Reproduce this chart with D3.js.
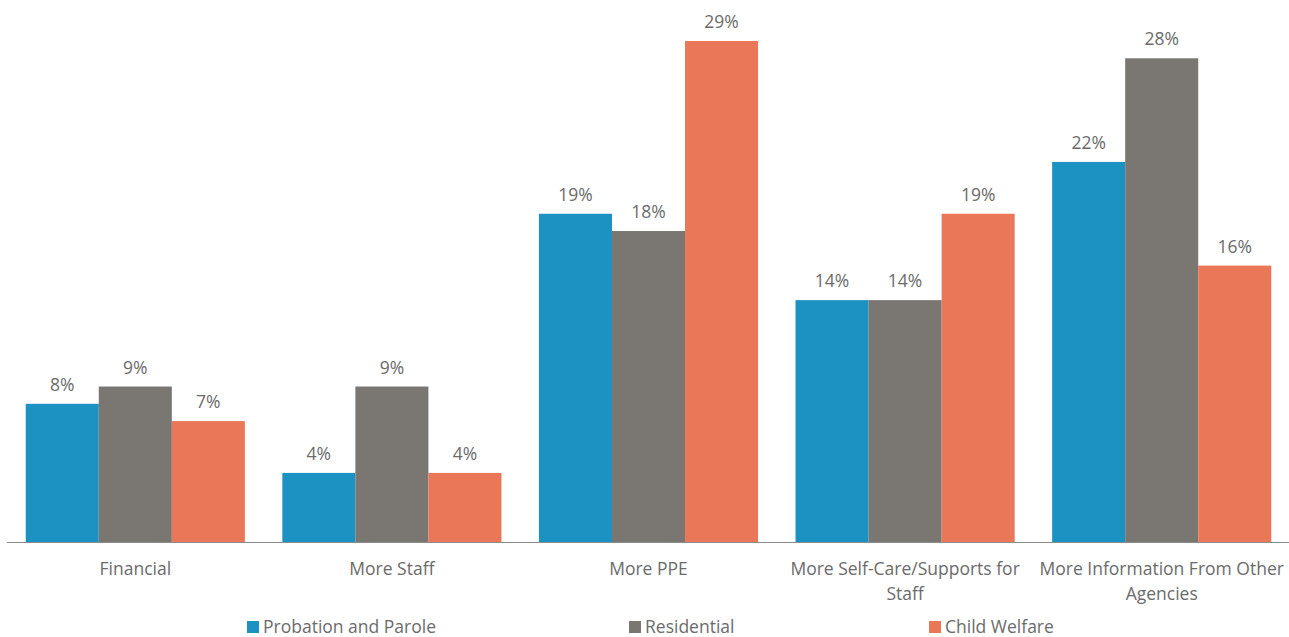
<!DOCTYPE html>
<html>
<head>
<meta charset="utf-8">
<script src="https://cdn.jsdelivr.net/npm/d3@7"></script>
<style>
  body { margin: 0; background: #fff; }
  text { font-family: "Open Sans", "Noto Sans", sans-serif; }
</style>
</head>
<body>
<div class="svg"></div>
<script>
var categories = ['Financial', 'More Staff', 'More PPE', 'More Self-Care/Supports for Staff', 'More Information From Other Agencies'];
var categoryLines = [['Financial'], ['More Staff'], ['More PPE'], ['More Self-Care/Supports for', 'Staff'], ['More Information From Other', 'Agencies']];
var seriesNames = ['Probation and Parole', 'Residential', 'Child Welfare'];
var probation = [8, 4, 19, 14, 22];
var residential = [9, 9, 18, 14, 28];
var childWelfare = [7, 4, 29, 19, 16];
var colors = ['#1b92c2', '#7a7672', '#e97758'];

var w = 1289, h = 637;
var baseY = 542;
var fs = '17.5px';
var svg = d3.select('div.svg').append('svg').attr('width', w).attr('height', h);

var x0 = d3.scaleBand().domain(categories).range([7, 1290]).paddingInner(0.146).paddingOuter(0.073);
var x1 = d3.scaleBand().domain(seriesNames).range([0, x0.bandwidth()]);
var y = d3.scaleLinear().domain([0, 29]).range([baseY, 41]);

var rows = categories.map(function (c, i) {
  return { cat: c, vals: [probation[i], residential[i], childWelfare[i]] };
});

var g = svg.selectAll('g.cat').data(rows).enter().append('g')
  .attr('transform', function (d) { return 'translate(' + x0(d.cat) + ',0)'; });

g.selectAll('rect').data(function (d) { return d.vals; }).enter().append('rect')
  .attr('x', function (d, i) { return x1(seriesNames[i]); })
  .attr('y', function (d) { return y(d); })
  .attr('width', x1.bandwidth())
  .attr('height', function (d) { return baseY - y(d); })
  .style('fill', function (d, i) { return colors[i]; });

g.selectAll('text.val').data(function (d) { return d.vals; }).enter().append('text')
  .attr('class', 'val')
  .attr('x', function (d, i) { return x1(seriesNames[i]) + x1.bandwidth() / 2; })
  .attr('y', function (d) { return y(d) - 13; })
  .attr('text-anchor', 'middle')
  .style('font-size', fs)
  .style('fill', '#6b6b6b')
  .text(function (d) { return d + '%'; });

// baseline
svg.append('line').attr('x1', 7).attr('x2', 1289).attr('y1', baseY + 0.5).attr('y2', baseY + 0.5)
  .style('stroke', '#8c8c8c').style('stroke-width', 1);

// category labels
svg.selectAll('text.cat').data(categories).enter().append('text')
  .attr('class', 'cat')
  .attr('x', function (d) { return x0(d) + x0.bandwidth() / 2; })
  .attr('y', 575)
  .attr('text-anchor', 'middle')
  .style('font-size', fs)
  .style('fill', '#6b6b6b')
  .each(function (d, i) {
    var t = d3.select(this);
    categoryLines[i].forEach(function (line, j) {
      t.append('tspan').attr('x', x0(d) + x0.bandwidth() / 2).attr('dy', j === 0 ? 0 : 25).text(line);
    });
  });

// legend
var legendX = [247, 629, 929];
var lg = svg.selectAll('g.legend').data(seriesNames).enter().append('g')
  .attr('transform', function (d, i) { return 'translate(' + legendX[i] + ',621)'; });
lg.append('rect').attr('width', 12).attr('height', 12).style('fill', function (d, i) { return colors[i]; });
lg.append('text').attr('x', 16).attr('y', 12).style('font-size', fs).style('fill', '#6b6b6b')
  .text(function (d) { return d; });
</script>
</body>
</html>
